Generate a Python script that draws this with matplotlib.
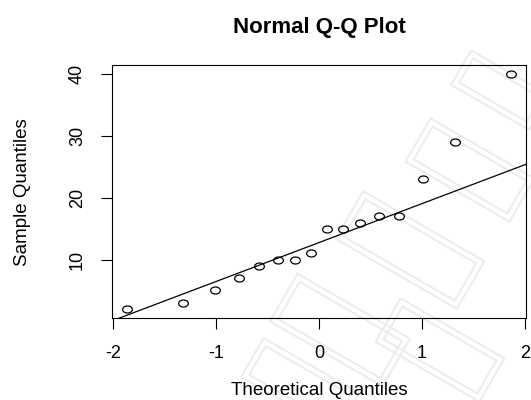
import numpy as np
import matplotlib
matplotlib.use("Agg")
import matplotlib.pyplot as plt
from matplotlib.path import Path
from matplotlib.patches import Rectangle
from matplotlib.markers import MarkerStyle
import matplotlib.transforms as mtransforms

plt.rcParams['font.family'] = ['Liberation Sans', 'DejaVu Sans']

# Cuantiles teóricos (normal estándar) y cuantiles muestrales
theoretical = [-1.863, -1.318, -1.010, -0.776, -0.579, -0.402, -0.237, -0.078,
               0.078, 0.237, 0.402, 0.579, 0.776, 1.010, 1.318, 1.863]
sample = [2, 3, 5, 7, 9, 10, 10, 11, 15, 15, 16, 17, 17, 23, 29, 40]
x_ticks = [-2, -1, 0, 1, 2]
y_ticks = [10, 20, 30, 40]

# Recta de referencia por los cuartiles (como qqline)
z_q = 0.6745
q1, q3 = np.quantile(sample, [0.25, 0.75])
slope = (q3 - q1) / (2 * z_q)
intercept = q1 + z_q * slope

fig = plt.figure(figsize=(5.31, 4.0), dpi=100)

# Marca de agua de fondo: marcos grises inclinados, muy tenues
wm = fig.add_axes([0, 0, 1, 1], zorder=-5)
wm.set_xlim(0, 531)
wm.set_ylim(400, 0)
wm.axis('off')
frames = [(340, 330, 130, 55), (410, 250, 140, 55), (470, 170, 120, 50),
          (300, 385, 110, 45), (440, 350, 120, 50), (500, 90, 90, 40)]
for cx, cy, w, h in frames:
    tr = mtransforms.Affine2D().rotate_deg_around(cx, cy, 30) + wm.transData
    for shrink in [0, 12]:
        r = Rectangle((cx - (w - shrink) / 2, cy - (h - shrink) / 2),
                      w - shrink, h - shrink, fill=False,
                      edgecolor='#ececec', lw=1.4)
        r.set_transform(tr)
        wm.add_patch(r)

ax = fig.add_axes([112.3 / 531, 81.7 / 400, 413.4 / 531, 253.3 / 400])
ax.patch.set_alpha(0)

# Círculos algo achatados
t = np.linspace(0, 2 * np.pi, 60)
ellipse = Path(np.column_stack([np.cos(t), 0.72 * np.sin(t)]), closed=True)
ax.plot(theoretical, sample, linestyle='none', marker=MarkerStyle(ellipse),
        markersize=7, markerfacecolor='none', markeredgecolor='black',
        markeredgewidth=0.9)
ax.axline((0, intercept), slope=slope, color='black', lw=0.9)

ax.set_xlim(-2.01, 2.01)
ax.set_ylim(0.48, 41.52)
ax.set_xticks(x_ticks)
ax.set_xticklabels([str(v) for v in x_ticks])
ax.set_yticks(y_ticks)
ax.set_yticklabels([str(v) for v in y_ticks], rotation=90, va='center')
ax.tick_params(direction='out', length=8, width=0.8, labelsize=13,
               colors='black')
ax.tick_params(axis='x', pad=11)
ax.tick_params(axis='y', pad=11)
for s in ax.spines.values():
    s.set_linewidth(0.8)

ax.set_xlabel("Theoretical Quantiles", fontsize=13.5, labelpad=14.5)
ax.set_ylabel("Sample Quantiles", fontsize=13.5, labelpad=27)
fig.text(319 / 531, 1 - 27 / 400, "Normal Q-Q Plot", ha='center', va='center',
         fontsize=16, fontweight='bold')

fig.savefig("out.png", dpi=100)
